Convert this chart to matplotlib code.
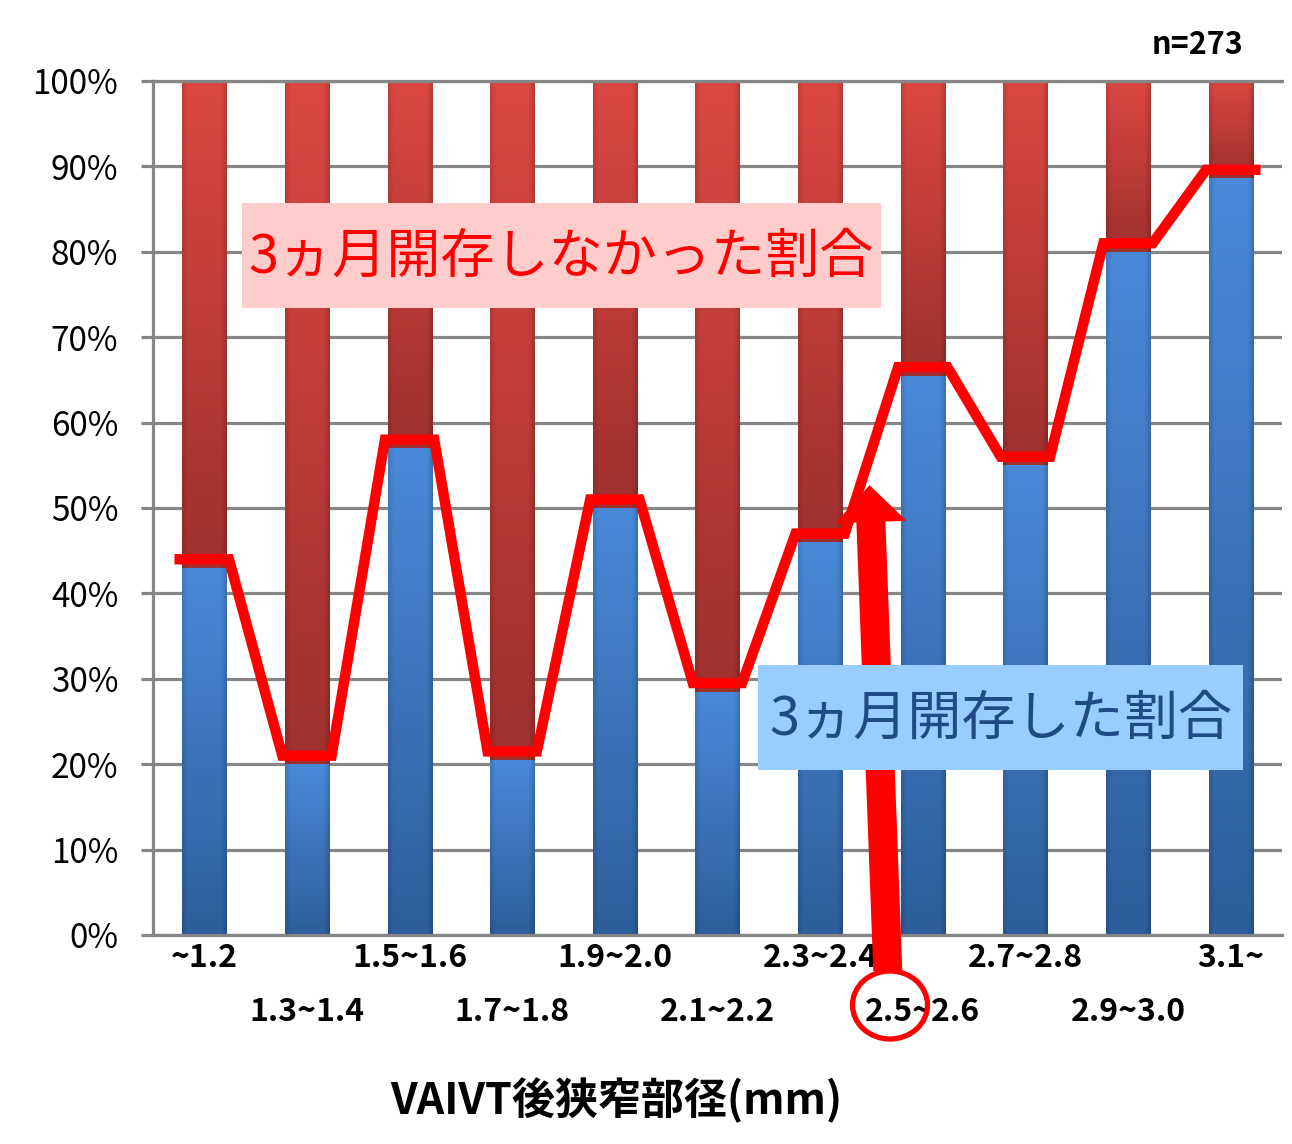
import numpy as np
import matplotlib
matplotlib.use("Agg")
import matplotlib.pyplot as plt
from matplotlib.patches import Ellipse, Rectangle

plt.rcParams['font.family'] = ['Noto Sans CJK JP', 'DejaVu Sans']

categories = ["~1.2", "1.3~1.4", "1.5~1.6", "1.7~1.8", "1.9~2.0", "2.1~2.2",
              "2.3~2.4", "2.5~2.6", "2.7~2.8", "2.9~3.0", "3.1~"]
patent = [43, 20, 57, 20.5, 50, 28.5, 46, 65.5, 55, 80, 88.6]   # 3ヵ月開存した割合 (%)
not_patent = [100 - v for v in patent]                          # 開存しなかった割合 (%)
line_vals = [44, 21, 58, 21.5, 51, 29.5, 47, 66.5, 56, 81, 89.6]  # red overlay line
yticks = list(range(0, 101, 10))

GRAY = "#868686"
W = 0.43

fig = plt.figure(figsize=(12.92, 11.44), dpi=100)
ax = fig.add_axes([153 / 1292, 1 - 935 / 1144, 1129 / 1292, 854 / 1144])

x = np.arange(len(categories))


def shade(rect, top, bot):
    # vertical + horizontal gradient clipped to the bar
    x0, y0, w, h = rect.get_x(), rect.get_y(), rect.get_width(), rect.get_height()
    t = np.linspace(0, 1, 64)[:, None]
    u = np.linspace(0, 1, 40)[None, :]
    col = np.array(bot)[None, None, :] + (np.array(top) - np.array(bot))[None, None, :] * t[..., None]
    edge = 1 - 0.18 * np.clip((u - 0.85) / 0.15, 0, 1) ** 1.5 - 0.12 * np.clip((0.12 - u) / 0.12, 0, 1)
    col = col * edge[..., None]
    im = ax.imshow(np.clip(col, 0, 1), extent=[x0, x0 + w, y0, y0 + h], origin="lower",
                   aspect="auto", zorder=2, interpolation="bilinear")
    im.set_clip_path(rect)


bb = ax.bar(x, patent, W, color="#3f7cc8", zorder=2)
br = ax.bar(x, not_patent, W, bottom=patent, color="#c8403c", zorder=2)
for r in bb:
    shade(r, (0.29, 0.54, 0.85), (0.18, 0.37, 0.61))
for r in br:
    shade(r, (0.86, 0.28, 0.26), (0.62, 0.19, 0.18))

# red line across bar tops
lx, ly = [], []
for i, v in enumerate(line_vals):
    lx += [i - 0.24, i + 0.24]
    ly += [v, v]
ax.plot(lx, ly, color="#ff0000", lw=7.5, solid_joinstyle="miter", zorder=4)

ax.set_xlim(-0.5, len(categories) - 0.5)
ax.set_ylim(0, 100)
ax.set_yticks(yticks)
ax.set_yticklabels([f"{v}%" for v in yticks], fontsize=24)
ax.grid(axis="y", color=GRAY, lw=2.3)
ax.set_axisbelow(True)
ax.tick_params(axis="y", length=9, width=2.3, color=GRAY, pad=16)
for s in ["left", "bottom", "top"]:
    ax.spines[s].set_color(GRAY)
    ax.spines[s].set_linewidth(2.3)
ax.spines["right"].set_visible(False)

# two staggered rows of category labels
ax.set_xticks(x[::2])
ax.set_xticklabels(categories[::2], fontsize=23, fontweight="bold")
ax.set_xticks(x[1::2], minor=True)
ax.set_xticklabels(categories[1::2], minor=True, fontsize=23, fontweight="bold")
ax.tick_params(axis="x", which="major", length=0, pad=5)
ax.tick_params(axis="x", which="minor", length=0, pad=44)

# text boxes
ax.add_patch(Rectangle((0.367, 73.4), 6.23, 12.3, fc="#ffcccc", ec="none", zorder=5))
ax.text(3.48, 79.4, "3ヵ月開存しなかった割合", fontsize=39, color="#ff0000",
        ha="center", va="center", zorder=6)
ax.add_patch(Rectangle((5.39, 19.3), 4.73, 12.3, fc="#99ccff", ec="none", zorder=5))
ax.text(7.76, 25.3, "3ヵ月開存した割合", fontsize=39, color="#1f4a85",
        ha="center", va="center", zorder=6)

# arrow + circle annotation
ax.annotate("", xy=(6.48, 53.0), xytext=(6.66, -4.5),
            arrowprops=dict(arrowstyle="simple,head_length=1.4,head_width=2.7,tail_width=1.1",
                            mutation_scale=19, color="#ff0000", lw=0),
            annotation_clip=False, zorder=4)
fig.add_artist(Ellipse((890 / 1292, 1 - 1005 / 1144), 75 / 1292, 68 / 1144,
                       transform=fig.transFigure, fill=False, ec="#ff0000", lw=3.8))

fig.text(616 / 1292, 1 - 1100 / 1144, "VAIVT後狭窄部径(mm)", fontsize=31,
         fontweight="bold", ha="center", va="center")
fig.text(1197 / 1292, 1 - 45 / 1144, "n=273", fontsize=22, fontweight="bold",
         ha="center", va="center")

fig.savefig("out.png", dpi=100)
